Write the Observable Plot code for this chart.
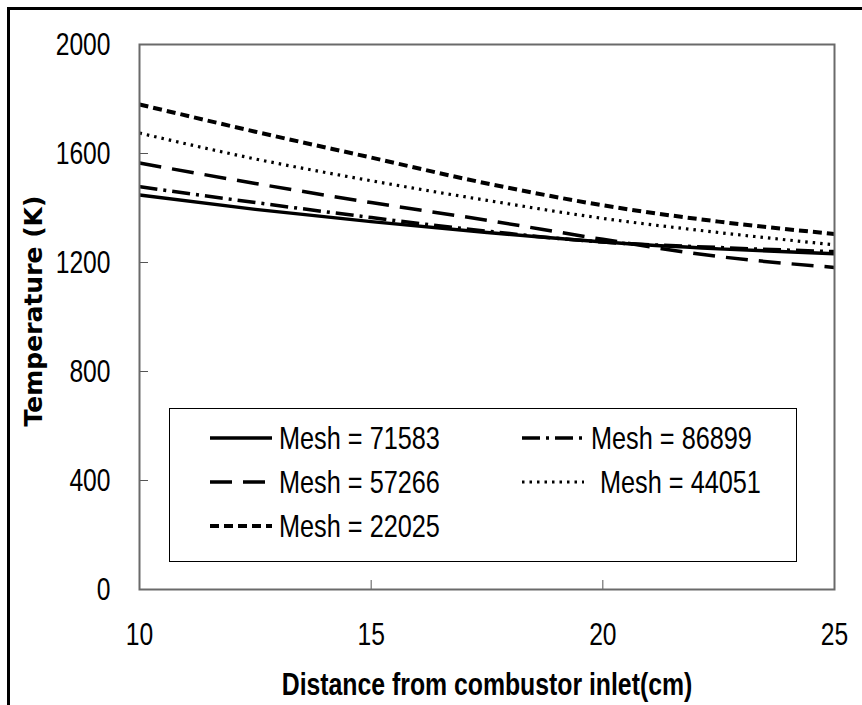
<!DOCTYPE html>
<html>
<head>
<meta charset="utf-8">
<script src="https://cdn.jsdelivr.net/npm/d3@7"></script>
<script src="https://cdn.jsdelivr.net/npm/@observablehq/plot@0.6"></script>
<style>
  body { margin: 0; background: #fff; }
  #wrap { position: relative; width: 862px; height: 705px; overflow: hidden; background: #fff; }
  #outer { position: absolute; left: 7px; top: 7px; width: 900px; height: 800px;
           border-top: 3px solid #000; border-left: 3px solid #000; }
  #chart { position: absolute; left: 0; top: 0; }
  #legend { position: absolute; left: 169px; top: 408px; width: 628px; height: 154px;
            border: 1.5px solid #000; background: #fff; box-sizing: border-box; }
  .entry { position: absolute; display: flex; align-items: center; height: 40px;
           font-family: "Liberation Sans", Arial, sans-serif;
           font-size: 32px; color: #000; white-space: pre; }
  .entry svg { display: block; flex: none; }
  .entry span { display: inline-block; transform: scaleX(0.79); transform-origin: 0 50%; }
</style>
</head>
<body>
<div id="wrap">
  <div id="outer"></div>
  <div id="chart"></div>
  <div id="legend"></div>
</div>
<script>
// ---- data ----
const xValues = [10, 12.5, 15, 17.5, 20, 22.5, 25];
const mesh71583 = [1448, 1395, 1350, 1310, 1275, 1250, 1232];
const mesh86899 = [1478, 1420, 1365, 1315, 1275, 1255, 1240];
const mesh57266 = [1565, 1490, 1420, 1355, 1285, 1222, 1182];
const mesh44051 = [1675, 1580, 1500, 1428, 1362, 1310, 1265];
const mesh22025 = [1780, 1680, 1585, 1490, 1410, 1350, 1305];

const seriesNames = ["Mesh = 71583", "Mesh = 86899", "Mesh = 57266", "Mesh = 44051", "Mesh = 22025"];
const xTicks = [10, 15, 20, 25];
const yTicks = [0, 400, 800, 1200, 1600, 2000];
const xTitle = "Distance from combustor inlet(cm)";
const yTitle = "Temperature (K)";

// ---- styles ----
const seriesValues = [mesh71583, mesh86899, mesh57266, mesh44051, mesh22025];
const dashes = [null, "18,6,3,6", "22,11", "2.5,5", "9,5"];
const widths = [3.5, 3.5, 3.5, 3.2, 4];

const rows = [];
seriesNames.forEach((name, s) => {
  xValues.forEach((x, i) => rows.push({series: name, x, y: seriesValues[s][i]}));
});

const sans = '"Liberation Sans", Arial, sans-serif';

const lineMarks = seriesNames.map((name, s) =>
  Plot.line(rows.filter(d => d.series === name), {
    x: "x", y: "y", stroke: "#000", strokeWidth: widths[s],
    strokeDasharray: dashes[s] || undefined, curve: "monotone-x", strokeLinecap: "butt"
  })
);

const chart = Plot.plot({
  width: 862,
  height: 705,
  marginLeft: 139,
  marginRight: 28,
  marginTop: 44,
  marginBottom: 116,
  style: { fontFamily: sans, fontSize: "32px", color: "#000", background: "transparent", overflow: "visible" },
  x: { domain: [10, 25], label: null },
  y: { domain: [0, 2000], label: null },
  marks: [
    Plot.axisY(yTicks, { tickSize: -9, tickPadding: 38, fontSize: 32, label: null, stroke: "#555", tickFormat: d => String(d) }),
    Plot.axisX(xTicks, { tickSize: -9, tickPadding: 42, fontSize: 32, label: null, stroke: "#555", tickFormat: d => String(d) }),
    ...lineMarks,
    Plot.frame({ stroke: "#6a6a6a", strokeWidth: 2 }),
    Plot.text([xTitle], { text: d => d, frameAnchor: "bottom", dy: 96, lineAnchor: "middle", textAnchor: "middle",
      fontWeight: "bold", fontSize: 31, fontFamily: sans, fill: "#000" }),
    Plot.text([yTitle], { text: d => d, frameAnchor: "left", dx: -106, dy: -6, rotate: -90, lineAnchor: "middle",
      textAnchor: "middle", fontWeight: "bold", fontSize: 25, fontFamily: '"DejaVu Sans", Verdana, sans-serif', fill: "#000" })
  ]
});
document.getElementById("chart").appendChild(chart);

// condense the Calibri-like texts horizontally (keeps them as real text)
d3.select(chart)
  .selectAll("g[aria-label='y-axis tick label'] text, g[aria-label='x-axis tick label'] text")
  .each(function() {
    const t = this.getAttribute("transform") || "";
    this.setAttribute("transform", t + " scale(0.77,1)");
  });
d3.select(chart).selectAll("text")
  .filter(function() { return this.textContent === xTitle; })
  .each(function() {
    const t = this.getAttribute("transform") || "";
    this.setAttribute("transform", t + " scale(0.8,1)");
  });

// ---- legend ----
const legend = document.getElementById("legend");
seriesNames.forEach((name, s) => {
  const col = s === 4 ? 0 : s % 2;
  const row = s === 4 ? 2 : Math.floor(s / 2);
  const e = document.createElement("div");
  e.className = "entry";
  e.style.left = (col === 0 ? 40 : 352) + "px";
  e.style.top = (9 + row * 44) + "px";
  const svg = d3.create("svg").attr("width", 64).attr("height", 20);
  svg.append("line").attr("x1", 0).attr("x2", 62).attr("y1", 10).attr("y2", 10)
    .attr("stroke", "#000").attr("stroke-width", widths[s])
    .attr("stroke-dasharray", dashes[s]);
  e.appendChild(svg.node());
  const t = document.createElement("span");
  t.textContent = name;
  t.style.marginLeft = (s === 3 ? 14 : 5) + "px";
  e.appendChild(t);
  legend.appendChild(e);
});
</script>
</body>
</html>
